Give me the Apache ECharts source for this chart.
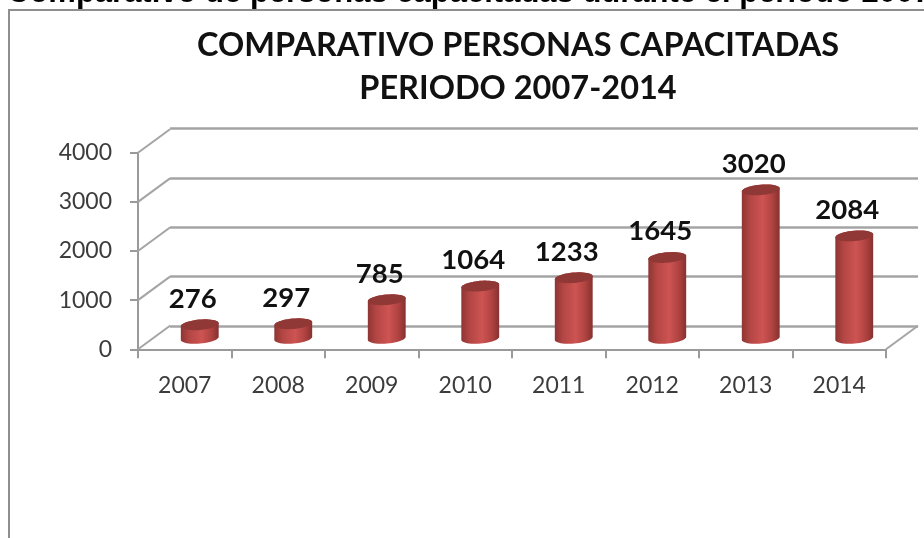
<!DOCTYPE html>
<html>
<head>
<meta charset="utf-8">
<style>html,body{margin:0;padding:0;background:#fff;overflow:hidden}#c{width:924px;height:538px}</style>
<script src="https://cdn.jsdelivr.net/npm/echarts@6/dist/echarts.min.js"></script>
</head>
<body>
<div id="c"></div>
<script>
const categories = ['2007','2008','2009','2010','2011','2012','2013','2014'];
const values = [276,297,785,1064,1233,1645,3020,2084];
const yTicks = [0,1000,2000,3000,4000];
const heading = 'Comparativo de personas capacitadas durante el periodo 2007-2014';
const titleText = 'COMPARATIVO PERSONAS CAPACITADAS\nPERIODO 2007-2014';

const FONT = 'Lato';
const GRID = '#a4a4a4', AXIS = '#9a9a9a';
const DX = 32, DY = -23.5;         // oblique depth of the floor
const RX = 19, RY = 5.2, TILT = -5 * Math.PI / 180;

function ellipsePts(cx, cy, from, to, n) {
  const pts = [];
  for (let i = 0; i <= n; i++) {
    const t = from + (to - from) * i / n;
    const ex = RX * Math.cos(t), ey = RY * Math.sin(t);
    pts.push([cx + ex * Math.cos(TILT) - ey * Math.sin(TILT),
              cy + ex * Math.sin(TILT) + ey * Math.cos(TILT)]);
  }
  return pts;
}

const chart = echarts.init(document.getElementById('c'), null, {renderer:'canvas'});
chart.setOption({
  animation: false,
  backgroundColor: '#fff',
  title: {
    text: titleText, left: 513, top: 19, textAlign: 'center',
    textStyle: {fontFamily: FONT, fontWeight: 'bold', fontSize: 32.5, lineHeight: 43, color: '#111'}
  },
  graphic: [
    {type:'rect', z:-1, shape:{x:9,y:10,width:1100,height:800},
     style:{fill:'#fff', stroke:'#8f8f8f', lineWidth:2}},
    {type:'text', z:5, x:7, y:-22,
     style:{text:heading, font:'bold 31px "Liberation Sans"', fill:'#000'}}
  ],
  grid: [
    {left:138, right:38, top:152.7, height:196.6},
    {left:170, right:6, top:128.5, height:197.5}
  ],
  xAxis: [
    {type:'category', gridIndex:0, data:categories, boundaryGap:true,
     axisLine:{show:true, lineStyle:{color:AXIS, width:2}},
     axisTick:{show:true, length:9, alignWithLabel:false, lineStyle:{color:AXIS, width:2}},
     axisLabel:{margin:25, fontFamily:FONT, fontSize:23, color:'#3c3c3c'}},
    {type:'category', gridIndex:1, data:categories, show:false}
  ],
  yAxis: [
    {type:'value', gridIndex:0, min:0, max:4000, interval:1000,
     axisLine:{show:true, lineStyle:{color:AXIS, width:2}},
     axisTick:{show:true, length:8, lineStyle:{color:AXIS, width:2}},
     splitLine:{show:false},
     axisLabel:{margin:26, fontFamily:FONT, fontSize:23, color:'#3c3c3c', formatter:(v)=>String(v)}},
    {type:'value', gridIndex:1, min:0, max:4000, interval:1000,
     axisLine:{show:false}, axisTick:{show:false}, axisLabel:{show:false},
     splitLine:{show:true, lineStyle:{color:GRID, width:2.5}}}
  ],
  series: [
    {
      type:'custom', name:'wall', xAxisIndex:0, yAxisIndex:0, silent:true, z:1,
      data: yTicks.map(v => [0, v]),
      clip:false,
      renderItem(params, api) {
        const left = params.coordSys.x;
        const y = api.coord([0, api.value(1)])[1];
        return {type:'line', shape:{x1:left, y1:y, x2:left+DX, y2:y+DY},
                style:{stroke:GRID, lineWidth:2, fill:null}};
      }
    },
    {
      type:'custom', name:'floor', xAxisIndex:0, yAxisIndex:0, silent:true, z:1,
      data: [[0, 0]],
      clip:false,
      renderItem(params, api) {
        const right = params.coordSys.x + params.coordSys.width;
        const y = api.coord([0, 0])[1];
        return {type:'line', shape:{x1:right, y1:y, x2:right+DX, y2:y+DY},
                style:{stroke:GRID, lineWidth:2, fill:null}};
      }
    },
    {
      type:'custom', name:'Personas', xAxisIndex:0, yAxisIndex:0, z:3,
      data: values.map((v, i) => [i, v]),
      clip:false,
      renderItem(params, api) {
        const top = api.coord([api.value(0), api.value(1)]);
        const base = api.coord([api.value(0), 0]);
        const cx = top[0] + DX / 2 - 1, oy = DY / 2 + 0.8;
        const yt = top[1] + oy, yb = base[1] + oy;
        const body = ellipsePts(cx, yb, Math.PI, 0, 24)
          .concat(ellipsePts(cx, yt, 0, -Math.PI, 24));
        return {type:'group', children:[
          {type:'polygon', shape:{points:body}, style:{
            fill:{type:'linear', x:0, y:0, x2:1, y2:0, colorStops:[
              {offset:0, color:'#8e3533'}, {offset:0.22, color:'#b34644'},
              {offset:0.55, color:'#cd5452'}, {offset:0.8, color:'#b04341'},
              {offset:1, color:'#863130'}]}}},
          {type:'polygon', shape:{points:ellipsePts(cx, yt, 0, 2*Math.PI, 48)},
           style:{fill:'#8f3836'}},
          {type:'text', style:{text:String(api.value(1)), x:cx-7, y:yt-26,
            align:'center', verticalAlign:'middle',
            font:'bold 27.5px '+FONT, fill:'#111'}}
        ]};
      }
    }
  ]
});
</script>
</body>
</html>
